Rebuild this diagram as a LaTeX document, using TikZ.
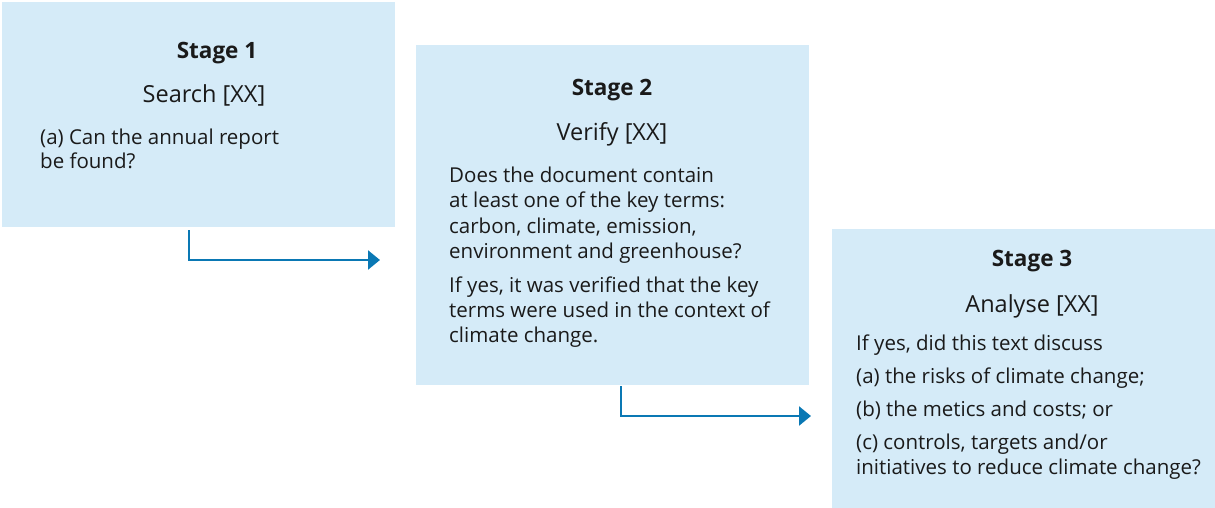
\documentclass[tikz,border=0pt]{standalone}
\usepackage{fontspec}
\setmainfont{Open Sans}
\usetikzlibrary{arrows.meta}
\definecolor{boxfill}{HTML}{D5EBF8}
\definecolor{arrowblue}{HTML}{0A78B4}
\definecolor{txt}{HTML}{1A1A1A}
\tikzset{
  stagebox/.style={fill=boxfill, draw=none, anchor=north west, inner sep=0pt},
  head/.style={anchor=base, inner sep=0pt, font=\fontsize{22.5}{26}\selectfont\bfseries, text=txt},
  sub/.style={anchor=base, inner sep=0pt, font=\fontsize{23.5}{27}\selectfont, text=txt},
  body/.style={anchor=base west, inner sep=0pt, font=\fontsize{20.5}{24}\selectfont, text=txt},
  flow/.style={draw=arrowblue, line width=2.3pt, -{Triangle[length=12pt,width=19pt]}}
}
\begin{document}
\begin{tikzpicture}[x=1pt,y=-1pt]
\useasboundingbox (0,0) rectangle (1215,508);
% boxes
\node[stagebox, minimum width=393pt, minimum height=225pt] (b1) at (2,2) {};
\node[stagebox, minimum width=393pt, minimum height=340pt] (b2) at (416,45) {};
\node[stagebox, minimum width=383pt, minimum height=279pt] (b3) at (832,229) {};
% stage 1
\node[head] (h1) at (217,59) {Stage 1};
\node[sub] (s1) at (204,103) {Search [XX]};
\node[body] (t11) at (40,144) {(a) Can the annual report};
\node[body] (t12) at (40,168) {be found?};
% stage 2
\node[head] (h2) at (612,96) {Stage 2};
\node[sub] (s2) at (612,141) {Verify [XX]};
\node[body] (t21) at (449,182) {Does the document contain};
\node[body] (t22) at (449,207) {at least one of the key terms:};
\node[body] (t23) at (449,233) {carbon, climate, emission,};
\node[body] (t24) at (449,258) {environment and greenhouse?};
\node[body] (t25) at (449,292) {If yes, it was verified that the key};
\node[body] (t26) at (449,317) {terms were used in the context of};
\node[body] (t27) at (449,342) {climate change.};
% stage 3
\node[head] (h3) at (1032,266) {Stage 3};
\node[sub] (s3) at (1032,312) {Analyse [XX]};
\node[body] (t31) at (856,350) {If yes, did this text discuss};
\node[body] (t32) at (856,383) {(a) the risks of climate change;};
\node[body] (t33) at (856,416) {(b) the metics and costs; or};
\node[body] (t34) at (856,449) {(c) controls, targets and/or};
\node[body] (t35) at (856,474) {initiatives to reduce climate change?};
% arrows
\coordinate (k1) at (380,260);
\coordinate (k2) at (811,416);
\draw[flow] ([xshift=-9.5pt,yshift=-3pt]b1.south) |- (k1);
\draw[flow] ([xshift=8.5pt,yshift=-1pt]b2.south) |- (k2);
\end{tikzpicture}
\end{document}
